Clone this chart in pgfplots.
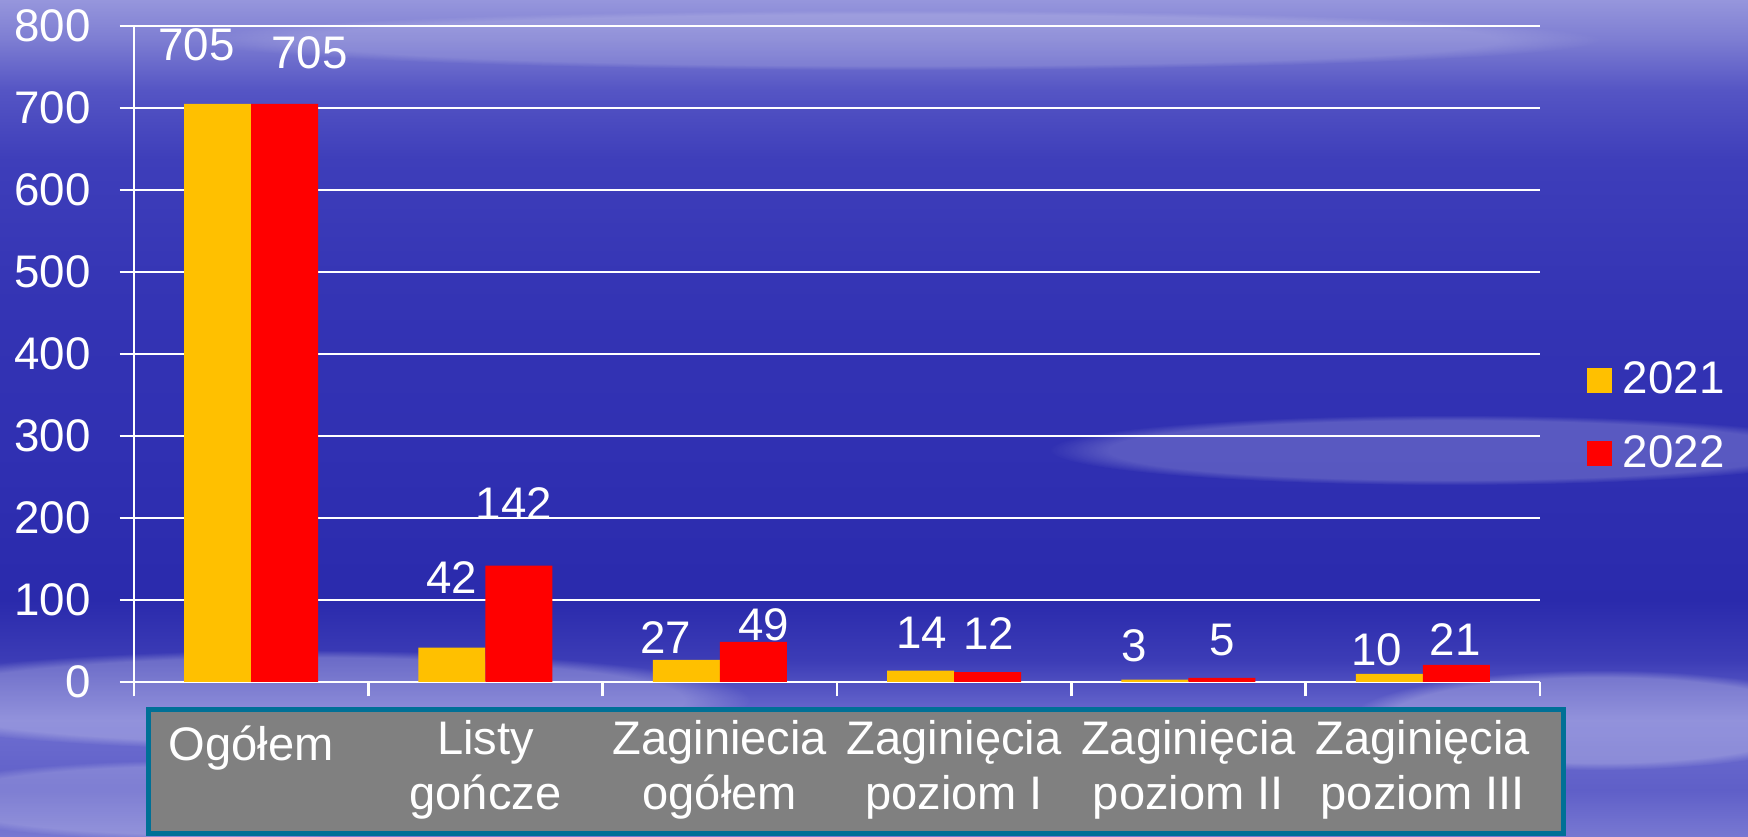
\documentclass[border=0pt]{standalone}
\usepackage{fontspec}
\setmainfont{Liberation Sans}
\usepackage{pgfplots}
\pgfplotsset{compat=1.18}
\usepackage{pgfplotstable}
\usetikzlibrary{fadings}
\definecolor{bary}{RGB}{255,192,0}
\definecolor{barr}{RGB}{255,0,0}
\definecolor{boxgray}{RGB}{128,128,128}
\definecolor{boxteal}{RGB}{0,112,150}
\pgfdeclareverticalshading{bgshade}{100bp}{%
rgb(0bp)=(0.471,0.471,0.824);
rgb(25bp)=(0.471,0.471,0.824);
rgb(27.81bp)=(0.373,0.373,0.784);
rgb(31.99bp)=(0.431,0.431,0.816);
rgb(35.57bp)=(0.235,0.235,0.714);
rgb(39.16bp)=(0.165,0.165,0.675);
rgb(48.12bp)=(0.188,0.188,0.698);
rgb(57.08bp)=(0.204,0.204,0.706);
rgb(65.44bp)=(0.243,0.243,0.729);
rgb(69.62bp)=(0.333,0.333,0.769);
rgb(72.61bp)=(0.490,0.490,0.824);
rgb(75bp)=(0.588,0.588,0.863);
rgb(100bp)=(0.588,0.588,0.863)}
\pgfplotstableread{
x y21 dxa dya y22 dxb dyb
0 705 -21 59 705 25 51.5
1 42 0 70.5 142 -5 62
2 27 -20.5 22 49 10.5 17
3 14 1 38 12 1 38.5
4 3 -20.5 34 5 0 38
5 10 -12.5 24.5 21 -1 25
}\datatable
\begin{document}
\begin{tikzpicture}[x=0.1mm,y=0.1mm]
\useasboundingbox (0,0) rectangle (1748,837);
\shade[shading=bgshade] (0,0) rectangle (1748,837);
\fill[white,opacity=0.25,path fading=circle with fuzzy edge 15 percent] (300,137) ellipse [x radius=450, y radius=50];
\fill[white,opacity=0.2,path fading=circle with fuzzy edge 15 percent] (200,37) ellipse [x radius=300, y radius=40];
\fill[white,opacity=0.2,path fading=circle with fuzzy edge 15 percent] (1450,387) ellipse [x radius=400, y radius=35];
\fill[white,opacity=0.25,path fading=circle with fuzzy edge 15 percent] (1600,117) ellipse [x radius=250, y radius=50];
\fill[white,opacity=0.15,path fading=circle with fuzzy edge 15 percent] (900,797) ellipse [x radius=700, y radius=30];
\draw[boxteal, line width=0.5mm, fill=boxgray] (148.5,127.5) rectangle (1563.5,3.5);
\begin{axis}[
  at={(13.4mm,15.5mm)}, anchor=south west,
  scale only axis, width=140.6mm, height=65.6mm,
  xmin=-0.5, xmax=5.5, ymin=0, ymax=800,
  clip=false,
  axis x line=bottom, axis y line=left,
  axis line style={white, line width=0.7pt, -},
  ybar=0pt, bar width=6.7mm,
  xtick={-0.5,0.5,...,5.5}, x tick label as interval,
  xticklabels={Ogółem, Listy\\gończe, Zaginiecia\\ogółem, Zaginięcia\\poziom I, Zaginięcia\\poziom II, Zaginięcia\\poziom III},
  ytick={0,100,...,800},
  ymajorgrids, grid style={white, line width=0.7pt},
  tick style={white, line width=0.7pt},
  tick align=outside, major tick length=1.45mm,
  /pgf/number format/assume math mode=true,
  yticklabel style={text=white, font=\fontsize{13}{15}\selectfont, anchor=east, inner sep=0pt, xshift=-2.8mm},
  xticklabel style={text=white, font=\fontsize{13.4}{15.6}\selectfont, align=center, anchor=north, inner sep=0pt, yshift=-2.3mm, execute at begin node={\rule{0pt}{4mm}}},
  legend style={at={(1.0334,0.4886)}, anchor=north west, draw=none, fill=none, inner sep=0pt, outer sep=0pt, row sep=3.66mm, column sep=1.1mm, font=\fontsize{13}{15}\selectfont, text=white, nodes={inner sep=0pt}},
  legend cell align=left,
  legend image code/.code={\fill[#1,draw=none] (0mm,-1.25mm) rectangle (2.5mm,1.25mm);},
  nodes near coords,
  nodes near coords style={text=white, font=\fontsize{13}{15}\selectfont, anchor=center, inner sep=0pt, xshift=\dx*0.1mm, yshift=\dy*0.1mm},
]
\addplot[fill=bary, draw=none, visualization depends on={\thisrow{dxa}\as\dx}, visualization depends on={\thisrow{dya}\as\dy}] table[x=x,y=y21] {\datatable};
\addlegendentry{2021}
\addplot[fill=barr, draw=none, visualization depends on={\thisrow{dxb}\as\dx}, visualization depends on={\thisrow{dyb}\as\dy}] table[x=x,y=y22] {\datatable};
\addlegendentry{2022}
\end{axis}
\end{tikzpicture}
\end{document}
